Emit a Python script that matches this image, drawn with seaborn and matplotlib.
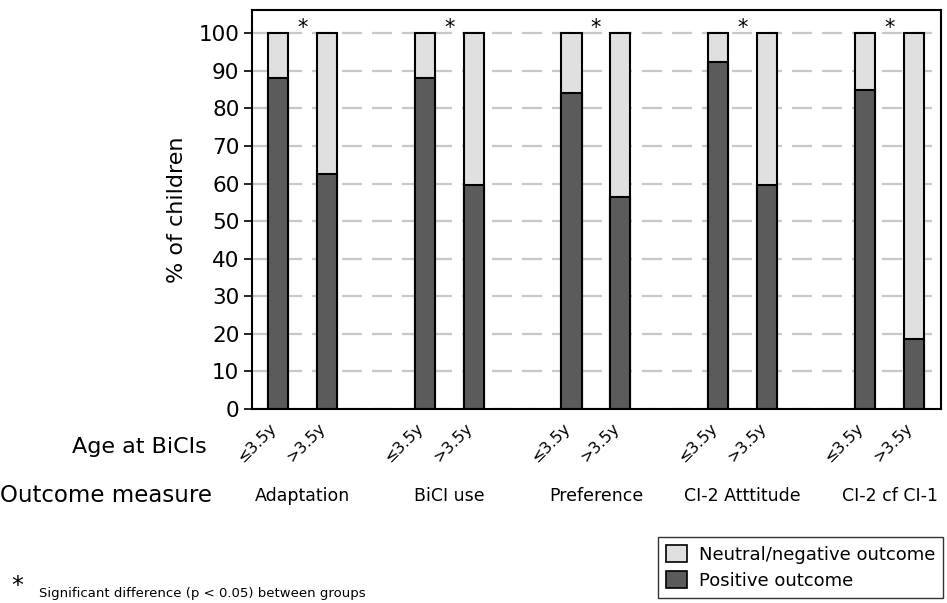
import matplotlib
matplotlib.use("Agg")
import matplotlib.pyplot as plt
import matplotlib.transforms as mtransforms
from matplotlib.patches import Patch
import seaborn as sns
import pandas as pd

measures = ["Adaptation", "BiCI use", "Preference", "CI-2 Atttitude", "CI-2 cf CI-1"]
ages = ["≤3.5y", ">3.5y"]
# % of children with a positive outcome, per measure and age group
positive = [88.0, 62.5, 88.0, 59.6, 84.0, 56.5, 92.3, 59.6, 85.0, 18.6]
total = [100, 100, 100, 100, 100, 100, 100, 100, 100, 100]
significant = [True, True, True, True, True]

LIGHT = "#e0e0e0"
DARK = "#5b5b5b"

rows = []
order = []
k = 0
for i, m in enumerate(measures):
    for a in ages:
        slot = f"{m}|{a}"
        rows.append({"slot": slot, "measure": m, "age": a,
                     "total": total[k], "positive": positive[k]})
        order.append(slot)
        k += 1
    if i < len(measures) - 1:
        order.append(f"gap{i}")
df = pd.DataFrame(rows)

sns.set_style("white")
plt.rcParams["font.family"] = ["DejaVu Sans"]
for key in ("text.color", "axes.labelcolor", "xtick.color", "ytick.color"):
    plt.rcParams[key] = "black"

fig = plt.figure(figsize=(9.47, 6.03), dpi=100)
ax = fig.add_axes([0.266, 0.3217, 0.7277, 0.6617])

ax.set_axisbelow(True)
ax.yaxis.grid(True, color="#c8c8c8", linestyle=(0, (9, 4.5)), linewidth=1.6)

bar_kw = dict(order=order, width=0.41, edgecolor="black", linewidth=1.5,
              saturation=1, ax=ax)
sns.barplot(data=df, x="slot", y="total", color=LIGHT, **bar_kw)
sns.barplot(data=df, x="slot", y="positive", color=DARK, **bar_kw)

ax.set_ylim(0, 106.2)
ax.set_xlim(-0.53, len(order) - 0.45)
ax.set_yticks(range(0, 101, 10))
ax.tick_params(axis="y", labelsize=15.5, length=6, width=1.2, direction="out",
               left=True, color="black", pad=3)
ax.set_ylabel("% of children", fontsize=16, labelpad=8)
ax.set_xlabel("")

tick_pos = [i for i, s in enumerate(order) if not s.startswith("gap")]
tick_lab = [df.loc[df.slot == order[i], "age"].iloc[0] for i in tick_pos]
ax.set_xticks(tick_pos)
ax.set_xticklabels(tick_lab, rotation=45, ha="right", va="top",
                   rotation_mode="anchor", fontsize=11.5)
ax.tick_params(axis="x", length=0, pad=8)
shift = mtransforms.ScaledTranslation(-9 / 100, 0, fig.dpi_scale_trans)
for lab in ax.get_xticklabels():
    lab.set_transform(lab.get_transform() + shift)

for sp in ax.spines.values():
    sp.set_visible(True)
    sp.set_color("black")
    sp.set_linewidth(1.5)

# outcome names and significance stars
trans = mtransforms.blended_transform_factory(ax.transData, fig.transFigure)
for i, m in enumerate(measures):
    p0 = order.index(f"{m}|{ages[0]}")
    mid = p0 + 0.5
    ax.text(mid, 1 - 496 / 603, m, transform=trans, ha="center", va="center",
            fontsize=12.5)
    if significant[i]:
        ax.text(mid, 101.3, "*", ha="center", va="center", fontsize=15)

fig.text(207 / 947, 1 - 447 / 603, "Age at BiCIs", ha="right", va="center",
         fontsize=16)
fig.text(212 / 947, 1 - 496 / 603, "Outcome measure", ha="right", va="center",
         fontsize=16.5)

fig.text(11 / 947, 1 - 586 / 603, "*", ha="left", va="center", fontsize=17)
fig.text(39 / 947, 1 - 593 / 603, "Significant difference (p < 0.05) between groups",
         ha="left", va="center", fontsize=9.5)

handles = [Patch(facecolor=LIGHT, edgecolor="black", linewidth=1.2),
           Patch(facecolor=DARK, edgecolor="black", linewidth=1.2)]
leg = fig.legend(handles, ["Neutral/negative outcome", "Positive outcome"],
                 loc="lower right", bbox_to_anchor=(943 / 947, 1 - 598 / 603),
                 fontsize=13, frameon=True, fancybox=False, handlelength=1.15,
                 handleheight=1.1, handletextpad=0.65, borderpad=0.45,
                 borderaxespad=0, labelspacing=0.4)
leg.get_frame().set_edgecolor("black")
leg.get_frame().set_linewidth(1.0)

fig.savefig("out.png", dpi=100)
